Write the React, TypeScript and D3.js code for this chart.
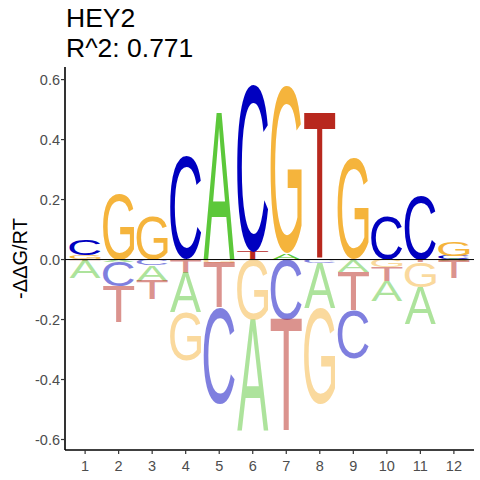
import { useMemo } from "react";
import * as d3 from "d3";

// energy logo values (-ddG/RT) per position
const positions = [1, 2, 3, 4, 5, 6, 7, 8, 9, 10, 11, 12];
const valuesA = [-0.058, -0.007, -0.05, -0.13, 0.49, -0.37, 0.02, -0.15, -0.04, -0.067, -0.123, -0.006];
const valuesC = [0.053, -0.083, -0.02, 0.343, -0.32, 0.556, -0.2, -0.012, -0.16, 0.145, 0.215, 0.012];
const valuesG = [0.014, 0.218, 0.144, -0.163, -0.012, -0.2, 0.56, -0.32, 0.34, -0.025, -0.085, 0.05];
const valuesT = [-0.005, -0.12, -0.063, -0.045, -0.15, 0.024, -0.375, 0.49, -0.13, -0.047, -0.008, -0.058];
const yTicks = [-0.6, -0.4, -0.2, 0, 0.2, 0.4, 0.6];

const letters = ["A", "C", "G", "T"];
const colors: Record<string, string> = {
  A: "#5cc83a",
  C: "#0000c0",
  G: "#f5b43c",
  T: "#b8281e",
};

const FONT = "'Liberation Sans', Arial, sans-serif";

const margin = { top: 67, right: 6, bottom: 30, left: 65 };
const width = 480;
const height = 480;

function glyphMetrics() {
  const ctx = document.createElement("canvas").getContext("2d")!;
  ctx.font = `100px ${FONT}`;
  const out: Record<string, { l: number; r: number; a: number; d: number }> = {};
  letters.forEach((k) => {
    const m = ctx.measureText(k);
    out[k] = {
      l: m.actualBoundingBoxLeft,
      r: m.actualBoundingBoxRight,
      a: m.actualBoundingBoxAscent,
      d: m.actualBoundingBoxDescent,
    };
  });
  return out;
}

export default function App() {
  const metrics = useMemo(glyphMetrics, []);

  const x = d3
    .scaleLinear()
    .domain([0.4, 12.6])
    .range([margin.left, width - margin.right]);
  const y = d3
    .scaleLinear()
    .domain([-0.635, 0.642])
    .range([height - margin.bottom, margin.top]);

  const series: Record<string, number[]> = { A: valuesA, C: valuesC, G: valuesG, T: valuesT };
  const letterW = 0.93;

  // stack letters: smallest magnitude nearest the zero line
  const glyphs: { key: string; letter: string; x0: number; x1: number; y0: number; y1: number; neg: boolean }[] = [];
  positions.forEach((p, i) => {
    const vals = letters.map((k) => ({ k, v: series[k][i] }));
    const pos = vals.filter((d) => d.v > 0).sort((a, b) => a.v - b.v);
    const neg = vals.filter((d) => d.v < 0).sort((a, b) => b.v - a.v);
    let acc = 0;
    pos.forEach((d) => {
      glyphs.push({ key: `${p}${d.k}`, letter: d.k, x0: x(p - letterW / 2), x1: x(p + letterW / 2), y0: y(acc + d.v), y1: y(acc), neg: false });
      acc += d.v;
    });
    acc = 0;
    neg.forEach((d) => {
      glyphs.push({ key: `${p}${d.k}`, letter: d.k, x0: x(p - letterW / 2), x1: x(p + letterW / 2), y0: y(acc), y1: y(acc + d.v), neg: true });
      acc += d.v;
    });
  });

  const axisColor = "#000";
  const tickText = "#4d4d4d";
  const bottom = height - margin.bottom;
  const fmt = (t: number) => d3.format(".1f")(t).replace("−", "-");

  return (
    <svg
      width={width}
      height={height}
      style={{ position: "absolute", left: 0, top: 0, background: "#fff" }}
      fontFamily={FONT}
    >
      {/* title */}
      <text x={66} y={27} fontSize={26.5} fill="#000">HEY2</text>
      <text x={66} y={57} fontSize={26.5} fill="#000">R^2: 0.771</text>

      {/* letters */}
      {glyphs.map((g) => {
        const m = metrics[g.letter];
        const rw = g.x1 - g.x0;
        const rh = g.y1 - g.y0;
        if (rh < 0.3) return null;
        const sx = rw / (m.l + m.r);
        const sy = rh / (m.a + m.d);
        return (
          <text
            key={g.key}
            x={0}
            y={0}
            fontSize={100}
            fill={colors[g.letter]}
            fillOpacity={g.neg ? 0.5 : 1}
            transform={`translate(${g.x0 + m.l * sx},${g.y0 + m.a * sy}) scale(${sx},${sy})`}
          >
            {g.letter}
          </text>
        );
      })}

      {/* zero line */}
      <line x1={margin.left} x2={width - margin.right} y1={y(0)} y2={y(0)} stroke="#000" strokeWidth={1} />

      {/* y axis */}
      <line x1={margin.left} x2={margin.left} y1={margin.top} y2={bottom} stroke={axisColor} strokeWidth={1.6} />
      {yTicks.map((t) => (
        <g key={t}>
          <line x1={margin.left - 4} x2={margin.left} y1={y(t)} y2={y(t)} stroke="#333" strokeWidth={1.2} />
          <text x={margin.left - 5} y={y(t)} dy="0.36em" textAnchor="end" fontSize={14.5} fill={tickText}>
            {fmt(t)}
          </text>
        </g>
      ))}
      <text
        transform={`translate(27,${(margin.top + bottom) / 2}) rotate(-90)`}
        textAnchor="middle"
        fontSize={20}
        fill="#000"
      >
        -ΔΔG/RT
      </text>

      {/* x axis */}
      <line x1={margin.left} x2={width - margin.right} y1={bottom} y2={bottom} stroke={axisColor} strokeWidth={1.6} />
      {positions.map((p) => (
        <g key={p}>
          <line x1={x(p)} x2={x(p)} y1={bottom} y2={bottom + 4} stroke="#333" strokeWidth={1.2} />
          <text x={x(p)} y={bottom + 21} textAnchor="middle" fontSize={14.5} fill={tickText}>
            {p}
          </text>
        </g>
      ))}
    </svg>
  );
}
